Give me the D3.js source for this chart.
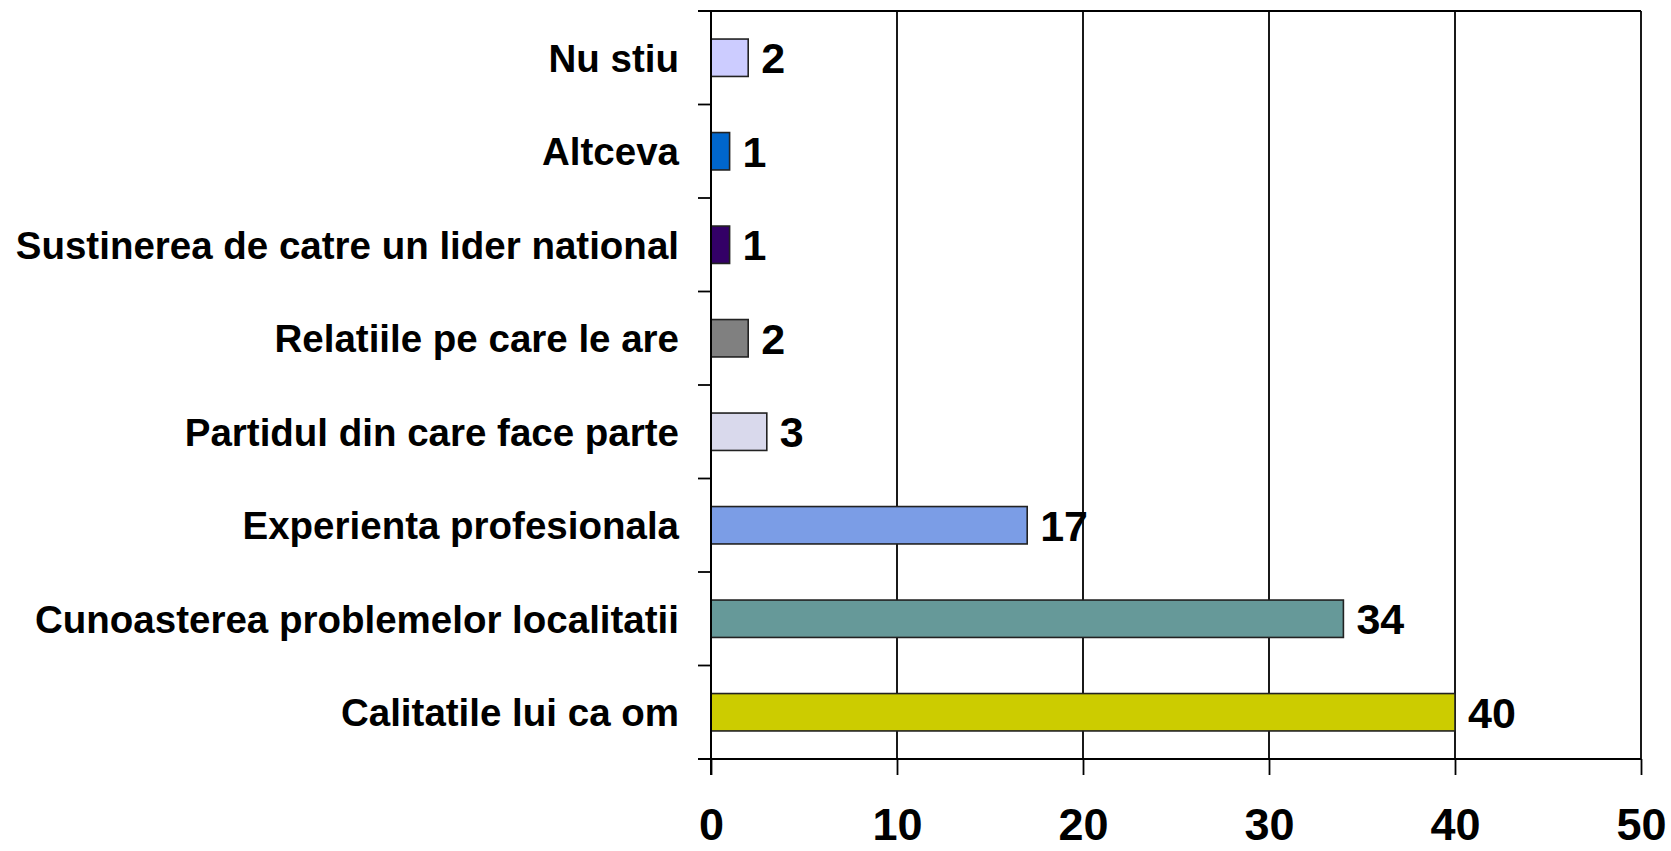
<!DOCTYPE html>
<html>
<head>
<meta charset="utf-8">
<script src="https://cdn.jsdelivr.net/npm/d3@7"></script>
<style>
  html, body { margin: 0; padding: 0; background: #fff; }
  svg { display: block; }
</style>
</head>
<body>
<svg id="chart"></svg>
<script>
// ── Data ─────────────────────────────────────────────
const categories = [
  'Nu stiu',
  'Altceva',
  'Sustinerea de catre un lider national',
  'Relatiile pe care le are',
  'Partidul din care face parte',
  'Experienta profesionala',
  'Cunoasterea problemelor localitatii',
  'Calitatile lui ca om'
];
const values = [2, 1, 1, 2, 3, 17, 34, 40];
const barColors = ['#ccccff', '#0066cc', '#330066', '#808080', '#d9d9ec', '#7b9de6', '#669999', '#cccc00'];
const xTicks = [0, 10, 20, 30, 40, 50];

// ── Layout ───────────────────────────────────────────
const W = 1671, H = 851;
const margin = { top: 11, right: 30, bottom: 92, left: 711 };
const iW = 1641 - margin.left;
const iH = 759 - margin.top;
const FONT = '"Liberation Sans", Arial, sans-serif';

const svg = d3.select('#chart').attr('width', W).attr('height', H);
const g = svg.append('g').attr('transform', `translate(${margin.left},${margin.top})`);

const x = d3.scaleLinear().domain([0, 50]).range([0, iW]);
const y = d3.scaleBand().domain(categories).range([0, iH])
  .paddingInner(0.6).paddingOuter(0.3);

// ── Grid lines (vertical) ────────────────────────────
g.append('g')
  .selectAll('line')
  .data(xTicks.filter(d => d > 0))
  .join('line')
    .attr('x1', d => x(d)).attr('x2', d => x(d))
    .attr('y1', 0).attr('y2', iH)
    .attr('stroke', '#000').attr('stroke-width', 1.8);

// top border
g.append('line')
  .attr('x1', -13).attr('x2', iW)
  .attr('y1', 0).attr('y2', 0)
  .attr('stroke', '#000').attr('stroke-width', 1.8);

// ── Bars ─────────────────────────────────────────────
g.selectAll('.bar')
  .data(values)
  .join('rect')
    .attr('class', 'bar')
    .attr('x', 0)
    .attr('y', (d, i) => y(categories[i]))
    .attr('width', d => x(d))
    .attr('height', y.bandwidth())
    .attr('fill', (d, i) => barColors[i])
    .attr('stroke', '#222')
    .attr('stroke-width', 1.6);

// value labels
g.selectAll('.val')
  .data(values)
  .join('text')
    .attr('class', 'val')
    .attr('x', d => x(d) + 13)
    .attr('y', (d, i) => y(categories[i]) + y.bandwidth() / 2)
    .attr('dy', '0.36em')
    .attr('font-family', FONT).attr('font-weight', 'bold').attr('font-size', 43)
    .attr('fill', '#000')
    .text(d => d);

// ── Axes ─────────────────────────────────────────────
// y axis: ticks at category boundaries
const boundaries = d3.range(categories.length + 1).map(i => i * y.step());
const yAx = g.append('g');
yAx.append('line')
  .attr('x1', 0).attr('x2', 0).attr('y1', 0).attr('y2', iH + 16)
  .attr('stroke', '#000').attr('stroke-width', 2);
yAx.selectAll('.ytick')
  .data(boundaries)
  .join('line')
    .attr('class', 'ytick')
    .attr('x1', -13).attr('x2', 0)
    .attr('y1', d => d).attr('y2', d => d)
    .attr('stroke', '#000').attr('stroke-width', 1.8);

// category labels
g.selectAll('.cat')
  .data(categories)
  .join('text')
    .attr('class', 'cat')
    .attr('x', -32)
    .attr('y', d => y(d) + y.bandwidth() / 2)
    .attr('dy', '0.36em')
    .attr('text-anchor', 'end')
    .attr('font-family', FONT).attr('font-weight', 'bold').attr('font-size', 38.5)
    .attr('fill', '#000')
    .text(d => d);

// x axis
const xAx = g.append('g').attr('transform', `translate(0,${iH})`)
  .call(d3.axisBottom(x).tickValues(xTicks).tickSize(16).tickPadding(33).tickSizeOuter(0));
xAx.select('.domain').attr('stroke', '#000').attr('stroke-width', 2)
  .attr('d', `M-13,0H${iW}`);
xAx.selectAll('.tick line').attr('stroke', '#000').attr('stroke-width', 1.8);
xAx.selectAll('.tick text')
  .attr('fill', '#000')
  .attr('font-family', FONT).attr('font-weight', 'bold').attr('font-size', 45);
</script>
</body>
</html>
